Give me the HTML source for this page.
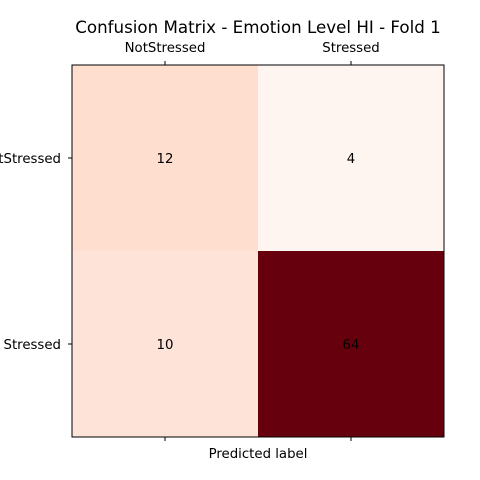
<!DOCTYPE html>
<html><head><meta charset="utf-8"><style>
html,body{margin:0;padding:0;background:#fff;width:480px;height:480px;overflow:hidden}
text{font-family:"DejaVu Sans","Liberation Sans",sans-serif}
</style></head><body>
<svg id="chart" width="480" height="480" xmlns="http://www.w3.org/2000/svg">
<rect width="480" height="480" fill="#fff"/>
<text x="258" y="33" font-size="16.7" text-anchor="middle">Confusion Matrix - Emotion Level HI - Fold 1</text>
<g id="cells"></g>
<rect x="72" y="65" width="372" height="372" fill="none" stroke="#000" stroke-width="1"/>
<g id="ticks"></g>
<text x="258" y="458" font-size="13.3" text-anchor="middle">Predicted label</text>
</svg>
<script>
const predictedLabels = ["NotStressed","Stressed"];
const trueLabels = ["NotStressed","Stressed"];
const matrixRow0 = [12, 4];
const matrixRow1 = [10, 64];
const matrix = [matrixRow0, matrixRow1];

const NS = "http://www.w3.org/2000/svg";
const X0 = 72, Y0 = 65, W = 372, H = 372;
const nC = predictedLabels.length, nR = trueLabels.length;
const cw = W / nC, ch = H / nR;
const xPos = i => X0 + i * cw;
const yPos = j => Y0 + j * ch;
const all = matrix.flat();
const vmin = Math.min(...all), vmax = Math.max(...all);
const stops = [[0,[255,245,240]],[0.125,[254,224,210]],[0.25,[252,187,161]],[0.375,[252,146,114]],[0.5,[251,106,74]],[0.625,[239,59,44]],[0.75,[203,24,29]],[0.875,[165,15,21]],[1,[103,0,13]]];
function reds(t){
  t = Math.max(0, Math.min(1, t));
  for (let k = 1; k < stops.length; k++) {
    if (t <= stops[k][0]) {
      const [a, ca] = stops[k-1], [b, cb] = stops[k];
      const f = (t - a) / (b - a);
      return "rgb(" + ca.map((c, i) => Math.round(c + (cb[i] - c) * f)).join(",") + ")";
    }
  }
  return "rgb(103,0,13)";
}
const cells = document.getElementById("cells");
const ticks = document.getElementById("ticks");
function mk(tag, attrs, parent){ const e = document.createElementNS(NS, tag); for (const k in attrs) e.setAttribute(k, attrs[k]); parent.appendChild(e); return e; }
matrix.forEach((row, j) => row.forEach((v, i) => {
  const t = (v - vmin) / (vmax - vmin);
  const r = mk("rect", {x: xPos(i), y: yPos(j), width: cw, height: ch, fill: reds(t)}, cells);
  
  
  const tx = mk("text", {x: xPos(i) + cw/2, y: yPos(j) + ch/2 + 5, "font-size": 13.3, "text-anchor": "middle", fill: t > 0.5 ? "#000" : "#000"}, cells);
  tx.textContent = v;
  
  
}));
predictedLabels.forEach((lab, i) => {
  const cx = xPos(i) + cw/2;
  const t1 = mk("line", {x1: cx, x2: cx, y1: Y0, y2: Y0 - 4, stroke: "#000"}, ticks);
  
  
  const t2 = mk("line", {x1: cx, x2: cx, y1: Y0 + H, y2: Y0 + H + 4, stroke: "#000"}, ticks);
  
  
  const tl = mk("text", {x: cx, y: 52, "font-size": 13.3, "text-anchor": "middle"}, ticks);
  tl.textContent = lab;
  
  
});
trueLabels.forEach((lab, j) => {
  const cy = yPos(j) + ch/2;
  const t1 = mk("line", {x1: X0, x2: X0 - 4, y1: cy, y2: cy, stroke: "#000"}, ticks);
  
  
  const tl = mk("text", {x: 61, y: cy + 5, "font-size": 13.3, "text-anchor": "end"}, ticks);
  tl.textContent = lab;
  
  
});
</script>
</body></html>
